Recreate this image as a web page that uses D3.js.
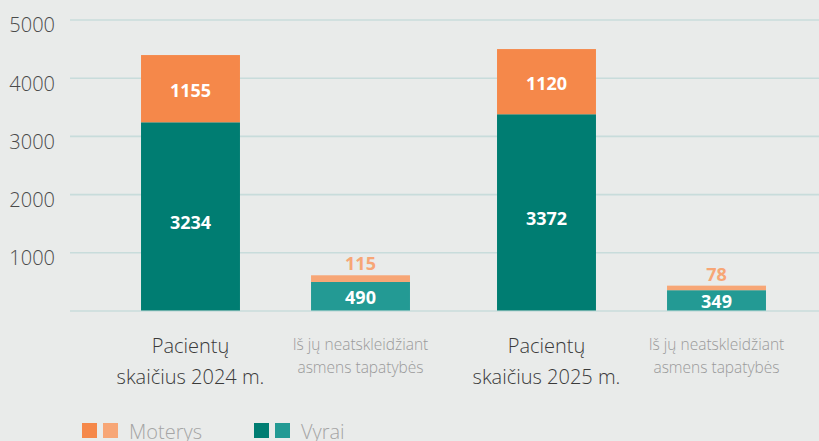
<!DOCTYPE html>
<html>
<head>
<meta charset="utf-8">
<script src="https://cdn.jsdelivr.net/npm/d3@7"></script>
<style>
  body { margin: 0; background: #e9ebea; }
  svg { display: block; font-family: "Open Sans", sans-serif; }
</style>
</head>
<body>
<div id="chart"></div>
<script>
// data
var years = ["2024", "2025"];
var kinds = ["total", "hidden"];
var men = [3234, 3372];
var women = [1155, 1120];
var menHidden = [490, 349];
var womenHidden = [115, 78];
var yTicks = [1000, 2000, 3000, 4000, 5000];
var totalLabels = [["Pacientų", "skaičius 2024 m."], ["Pacientų", "skaičius 2025 m."]];
var hiddenLabel = ["Iš jų neatskleidžiant", "asmens tapatybės"];

var svgWidth = 819;
var svgHeight = 441;

var colors = {
  womenDark: "#f5884a",
  womenLight: "#f7a676",
  menDark: "#007d72",
  menLight: "#239a94"
};

var svg = d3.select("#chart")
  .append("svg")
  .attr("width", svgWidth)
  .attr("height", svgHeight);

// scales
var y = d3.scaleLinear()
  .domain([0, 5000])
  .range([310.5, 19.5]);

var x0 = d3.scaleBand()
  .domain(years)
  .range([97.5, 809.5]);

var x1 = d3.scaleBand()
  .domain(kinds)
  .range([0, x0.bandwidth()])
  .paddingInner(0.418)
  .paddingOuter(0.256);

// grid lines (incl. baseline)
var yAxis = d3.axisLeft(y)
  .tickValues([0].concat(yTicks))
  .tickSize(-(svgWidth - 70))
  .tickFormat(function(d) { return d === 0 ? "" : d; });

var axisG = svg.append("g")
  .attr("transform", "translate(70,0)")
  .call(yAxis)
  .attr("font-family", "'Open Sans', sans-serif");

axisG.select(".domain").remove();
axisG.selectAll(".tick line")
  .attr("stroke", "#c8dcdb")
  .attr("stroke-width", 1.6);
axisG.selectAll(".tick text")
  .attr("x", -15)
  .attr("dy", "0.62em")
  .style("font-size", "20px")
  .style("font-weight", 300)
  .style("fill", "#4a4a4a");

// build rows for bars
var rows = years.map(function(yr, i) {
  return [
    { year: yr, kind: "total", men: men[i], women: women[i] },
    { year: yr, kind: "hidden", men: menHidden[i], women: womenHidden[i] }
  ];
});

var groups = svg.selectAll(".grp")
  .data(rows)
  .enter().append("g")
  .attr("class", "grp")
  .attr("transform", function(d, i) { return "translate(" + x0(years[i]) + ",0)"; });

var bars = groups.selectAll(".bar")
  .data(function(d) { return d; })
  .enter().append("g")
  .attr("class", "bar");

// men segment
bars.append("rect")
  .attr("x", function(d) { return x1(d.kind); })
  .attr("width", x1.bandwidth())
  .attr("y", function(d) { return y(d.men); })
  .attr("height", function(d) { return y(0) - y(d.men); })
  .attr("fill", function(d) { return d.kind === "total" ? colors.menDark : colors.menLight; });

// women segment
bars.append("rect")
  .attr("x", function(d) { return x1(d.kind); })
  .attr("width", x1.bandwidth())
  .attr("y", function(d) { return y(d.men + d.women); })
  .attr("height", function(d) { return y(d.men) - y(d.men + d.women); })
  .attr("fill", function(d) { return d.kind === "total" ? colors.womenDark : colors.womenLight; });

// value labels
bars.append("text")
  .attr("x", function(d) { return x1(d.kind) + x1.bandwidth() / 2; })
  .attr("y", function(d) {
    return d.kind === "total" ? (y(d.men) + y(0)) / 2 + 6 : (y(d.men) + y(0)) / 2 + 1;
  })
  .attr("dy", "0.35em")
  .attr("text-anchor", "middle")
  .style("font-size", "18px")
  .style("font-weight", "bold")
  .style("fill", "#fff")
  .text(function(d) { return d.men; });

bars.append("text")
  .attr("x", function(d) { return x1(d.kind) + x1.bandwidth() / 2; })
  .attr("y", function(d) {
    return d.kind === "total" ? (y(d.men + d.women) + y(d.men)) / 2 + 2 : y(d.men + d.women) - 5;
  })
  .attr("dy", function(d) { return d.kind === "total" ? "0.35em" : "0"; })
  .attr("text-anchor", "middle")
  .style("font-size", "18px")
  .style("font-weight", "bold")
  .style("fill", function(d) { return d.kind === "total" ? "#fff" : colors.womenLight; })
  .text(function(d) { return d.women; });

// category labels
groups.each(function(d, i) {
  var g = d3.select(this);
  var cx = x1("total") + x1.bandwidth() / 2;
  var t = g.append("text")
    .attr("text-anchor", "middle")
    .style("font-size", "20px")
    .style("font-weight", 300)
    .style("fill", "#3a3a3a");
  totalLabels[i].forEach(function(line, j) {
    t.append("tspan").attr("x", cx).attr("y", 353 + j * 31).text(line);
  });

  var hx = x1("hidden") + x1.bandwidth() / 2;
  var h = g.append("text")
    .attr("text-anchor", "middle")
    .style("font-size", "15.5px")
    .style("font-weight", 300)
    .style("fill", "#9a9a9a");
  hiddenLabel.forEach(function(line, j) {
    h.append("tspan").attr("x", hx).attr("y", 350 + j * 23).text(line);
  });
});

// legend
var legend = [
  { name: "Moterys", cols: [colors.womenDark, colors.womenLight], x: 82 },
  { name: "Vyrai", cols: [colors.menDark, colors.menLight], x: 254 }
];

var lg = svg.selectAll(".legend")
  .data(legend)
  .enter().append("g")
  .attr("class", "legend")
  .attr("transform", function(d) { return "translate(" + d.x + ",423)"; });

lg.selectAll("rect")
  .data(function(d) { return d.cols; })
  .enter().append("rect")
  .attr("x", function(d, i) { return i * 21; })
  .attr("width", 15)
  .attr("height", 15)
  .attr("fill", function(d) { return d; });

lg.append("text")
  .attr("x", 47)
  .attr("y", 16)
  .style("font-size", "20px")
  .style("font-weight", 300)
  .style("fill", "#a5a5a5")
  .text(function(d) { return d.name; });
</script>
</body>
</html>
